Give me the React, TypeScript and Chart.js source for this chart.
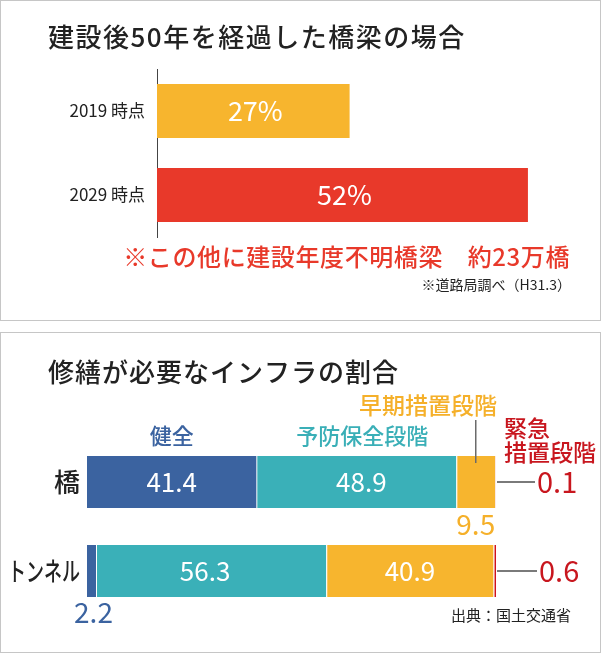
import React, { useEffect, useRef } from "react";
import { Chart, registerables } from "chart.js";

Chart.register(...registerables);

const FONT = '"Noto Sans CJK JP", "Noto Sans", sans-serif';

// ---- Panel 1 data ----
const agedTitle = "建設後50年を経過した橋梁の場合";
const agedYears = ["2019 時点", "2029 時点"];
const agedShare = [27, 52];
const agedColors = ["#f7b52e", "#e8392a"];
const agedNote = "※この他に建設年度不明橋梁　約23万橋";
const agedSource = "※道路局調べ（H31.3）";

// ---- Panel 2 data ----
const infraTitle = "修繕が必要なインフラの割合";
const infraCategories = ["橋", "トンネル"];
const stageNames = ["健全", "予防保全段階", "早期措置段階", "緊急措置段階"];
const healthy = [41.4, 2.2];
const preventive = [48.9, 56.3];
const early = [9.5, 40.9];
const urgent = [0.1, 0.6];
const stageColors = ["#3b63a0", "#3ab0b8", "#f7b52e", "#d0121b"];
const stageTextColors = ["#3b63a0", "#3aafb7", "#f5b02a", "#c8161e"];
const infraSource = "出典：国土交通省";

function txt(
  ctx: CanvasRenderingContext2D,
  s: string,
  x: number,
  y: number,
  size: number,
  color: string,
  align: CanvasTextAlign = "left",
  weight = "400",
  fitWidth = 0,
  spacing = 0
) {
  ctx.save();
  ctx.font = `${weight} ${size}px ${FONT}`;
  ctx.fillStyle = color;
  ctx.textBaseline = "middle";
  ctx.textAlign = align;
  if (spacing) (ctx as any).letterSpacing = `${spacing}px`;
  if (fitWidth > 0) {
    const w = ctx.measureText(s).width;
    const k = Math.min(1, fitWidth / w);
    ctx.translate(x, y);
    ctx.scale(k, 1);
    ctx.fillText(s, 0, 0);
  } else {
    ctx.fillText(s, x, y);
  }
  ctx.restore();
}

const agedAnnot = {
  id: "agedAnnot",
  afterDraw(chart: any) {
    const ctx = chart.ctx as CanvasRenderingContext2D;
    const xs = chart.scales.x;
    const ys = chart.scales.y;
    txt(ctx, agedTitle, 48, 37, 26, "#222", "left", "500", 0, 1.5);
    agedShare.forEach((v, i) => {
      const x = (xs.getPixelForValue(0) + xs.getPixelForValue(v)) / 2;
      const y = ys.getPixelForValue(i);
      txt(ctx, `${v}%`, x + 2, y, 27, "#fff", "center", "400");
    });
    txt(ctx, agedNote, 570, 257, 24, "#e8392a", "right", "500", 0, 0.6);
    txt(ctx, agedSource, 571, 285, 14, "#222", "right", "400");
  },
};

const stageData = [healthy, preventive, early, urgent];

const infraAnnot = {
  id: "infraAnnot",
  afterDraw(chart: any) {
    const ctx = chart.ctx as CanvasRenderingContext2D;
    const xs = chart.scales.x;
    const ys = chart.scales.y;
    const seg = (d: number, i: number) => {
      let s = 0;
      for (let k = 0; k < d; k++) s += stageData[k][i];
      const a = xs.getPixelForValue(s);
      const b = xs.getPixelForValue(s + stageData[d][i]);
      return { a, b, c: (a + b) / 2 };
    };
    txt(ctx, infraTitle, 48, 40, 26, "#222", "left", "500", 0, 1);

    // category labels
    txt(ctx, infraCategories[0], 80, ys.getPixelForValue(0), 26, "#222", "right", "500");
    txt(ctx, infraCategories[1], 80, ys.getPixelForValue(1), 26, "#222", "right", "500", 72);

    const y0 = ys.getPixelForValue(0);
    const y1 = ys.getPixelForValue(1);

    // stage headers
    txt(ctx, stageNames[0], seg(0, 0).c, 104, 22, stageTextColors[0], "center", "500");
    txt(ctx, stageNames[1], seg(1, 0).c + 6, 104, 22, stageTextColors[1], "center", "500");
    const endX = xs.getPixelForValue(100);
    txt(ctx, stageNames[2], endX + 1, 73, 23, stageTextColors[2], "right", "500");
    txt(ctx, stageNames[3].slice(0, 2), 504, 96, 23, stageTextColors[3], "left", "500");
    txt(ctx, stageNames[3].slice(2), 504, 120, 23, stageTextColors[3], "left", "500");

    // leader lines
    ctx.save();
    ctx.strokeStyle = "#6b6b6b";
    ctx.lineWidth = 1.5;
    const ex = seg(2, 0).c;
    ctx.beginPath();
    ctx.moveTo(ex, 88);
    ctx.lineTo(ex, 131);
    ctx.stroke();
    ctx.strokeStyle = "#7a7a7a";
    ctx.lineWidth = 2;
    ctx.beginPath();
    ctx.moveTo(endX + 1, y0);
    ctx.lineTo(535, y0);
    ctx.moveTo(endX + 1, y1);
    ctx.lineTo(537, y1);
    ctx.stroke();
    ctx.restore();

    // inside values
    txt(ctx, String(healthy[0]), seg(0, 0).c, y0, 26, "#fff", "center");
    txt(ctx, String(preventive[0]), seg(1, 0).c + 5, y0, 26, "#fff", "center");
    txt(ctx, String(preventive[1]), seg(1, 1).c - 6, y1, 26, "#fff", "center");
    txt(ctx, String(early[1]), seg(2, 1).c, y1, 26, "#fff", "center");

    // outside values
    txt(ctx, String(early[0]), seg(2, 0).c, 192, 28, stageTextColors[2], "center");
    txt(ctx, String(urgent[0]), 537, y0, 29, stageTextColors[3], "left");
    txt(ctx, String(urgent[1]), 539, y1, 29, stageTextColors[3], "left");
    txt(ctx, String(healthy[1]), seg(0, 1).c + 2, 280, 28, stageTextColors[0], "center");

    txt(ctx, infraSource, 571, 283, 15, "#222", "right", "400");
  },
};

export default function App() {
  const c1 = useRef<HTMLCanvasElement>(null);
  const c2 = useRef<HTMLCanvasElement>(null);

  useEffect(() => {
    const ch1 = new Chart(c1.current as HTMLCanvasElement, {
      type: "bar",
      data: {
        labels: agedYears,
        datasets: [
          {
            data: agedShare,
            backgroundColor: agedColors,
            barPercentage: 0.64,
            categoryPercentage: 1,
          },
        ],
      },
      options: {
        indexAxis: "y",
        animation: false,
        responsive: false,
        maintainAspectRatio: false,
        layout: { padding: { top: 69, bottom: 84, left: 0, right: 16 } },
        plugins: {
          legend: { display: false },
          tooltip: { enabled: false },
          title: { display: false },
        },
        scales: {
          x: { display: false, min: 0, max: 60 },
          y: {
            afterFit: (s: any) => {
              s.width = 157;
            },
            grid: { display: false },
            border: { display: true, color: "#444", width: 1 },
            ticks: {
              font: { family: FONT, size: 17 },
              color: "#222",
              padding: 4,
            },
          },
        },
      } as any,
      plugins: [agedAnnot],
    });

    const ch2 = new Chart(c2.current as HTMLCanvasElement, {
      type: "bar",
      data: {
        labels: infraCategories,
        datasets: stageData.map((d, k) => ({
          label: stageNames[k],
          data: d,
          backgroundColor: stageColors[k],
          borderColor: "#ffffff",
          borderSkipped: false,
          borderWidth: { left: k === 0 ? 0 : 1, right: 0, top: 0, bottom: 0 },
          barPercentage: 0.584,
          categoryPercentage: 1,
        })),
      },
      options: {
        indexAxis: "y",
        animation: false,
        responsive: false,
        maintainAspectRatio: false,
        layout: { padding: { top: 105.5, bottom: 37.5, left: 0, right: 105 } },
        plugins: {
          legend: { display: false },
          tooltip: { enabled: false },
          title: { display: false },
        },
        scales: {
          x: { display: false, min: 0, max: 100, stacked: true },
          y: {
            stacked: true,
            afterFit: (s: any) => {
              s.width = 87;
            },
            grid: { display: false },
            border: { display: false },
            ticks: { display: false },
          },
        },
      } as any,
      plugins: [infraAnnot],
    });

    return () => {
      ch1.destroy();
      ch2.destroy();
    };
  }, []);

  return (
    <div
      style={{
        position: "absolute",
        left: 0,
        top: 0,
        width: 601,
        height: 653,
        background: "#fff",
      }}
    >
      <div
        style={{
          position: "absolute",
          left: 0,
          top: 0,
          width: 599,
          height: 319,
          border: "1px solid #c6c6c6",
        }}
      />
      <div
        style={{
          position: "absolute",
          left: 0,
          top: 332,
          width: 599,
          height: 319,
          border: "1px solid #c6c6c6",
        }}
      />
      <canvas
        ref={c1}
        width={601}
        height={321}
        style={{ position: "absolute", left: 0, top: 0, width: 601, height: 321 }}
      />
      <canvas
        ref={c2}
        width={601}
        height={321}
        style={{ position: "absolute", left: 0, top: 332, width: 601, height: 321 }}
      />
    </div>
  );
}
